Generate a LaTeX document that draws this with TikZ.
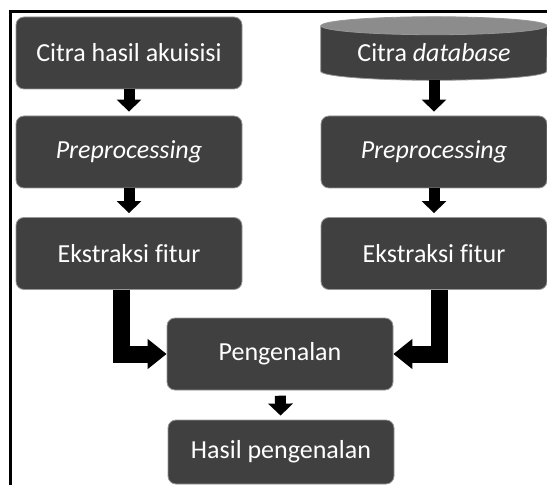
\documentclass[tikz,border=0pt]{standalone}
\usepackage{fontspec}
\setmainfont{Carlito}[Ligatures=NoCommon]
\usepackage{tikz}
\usetikzlibrary{arrows.meta,positioning,backgrounds,calc}
\usepackage{xcolor}
\definecolor{boxfill}{RGB}{64,64,64}
\definecolor{boxline}{RGB}{150,150,150}
\definecolor{dbtop}{RGB}{140,140,140}

\begin{document}
\begin{tikzpicture}[
  x=0.75pt, y=-0.75pt,
  every node/.style={font=\fontsize{19.5}{23}\selectfont, text=white},
  proc/.style={rounded corners=6pt, draw=boxline, line width=0.6pt, fill=boxfill, minimum width=169.5pt, minimum height=54pt, align=center, inner sep=0pt},
  dbnode/.style={minimum width=169.5pt, minimum height=40.5pt, align=center, inner sep=0pt},
  arr/.style={-{Triangle[length=9pt,width=18pt]}, line width=8.25pt, shorten >=3pt},
  bigarr/.style={-{Triangle[length=14.25pt,width=21.75pt]}, line width=12.75pt},
]
\useasboundingbox (0,0) rectangle (547,485);
% frame
\draw[line width=2.25pt] (10,485) -- (10,12) -- (547,12);

% left column
\node[proc] (akuisisi) at (129,53) {Citra hasil akuisisi};
\node[proc] (pre1) at (129,152) {\textit{Preprocessing}};
\node[proc] (eks1) at (129,253.5) {Ekstraksi fitur};

% right column
\node[dbnode] (db) at (434,53) {Citra \textit{database}};
\begin{scope}[on background layer]
  \filldraw[fill=boxfill, draw=boxline, line width=0.6pt] (db.north west) -- ([yshift=6.75pt]db.south west)
    arc[start angle=180, end angle=360, x radius=84.75pt, y radius=6.75pt] -- (db.north east) -- cycle;
  \filldraw[fill=dbtop, draw=boxline, line width=0.6pt] (db.north) ellipse[x radius=84.75pt, y radius=6.75pt];
\end{scope}
\node[proc] (pre2) at (434,152) {\textit{Preprocessing}};
\node[proc] (eks2) at (434,253.5) {Ekstraksi fitur};

% bottom
\node[proc] (peng) at (280,354) {Pengenalan};
\node[proc, minimum height=48pt] (hasil) at (281,452) {Hasil pengenalan};

\draw[arr] (akuisisi) -- (pre1);
\draw[arr] (pre1) -- (eks1);
\draw[arr] (db) -- (pre2);
\draw[arr] (pre2) -- (eks2);
\draw[bigarr] ([xshift=-6pt]eks1.south) |- (peng.west);
\draw[bigarr] ([xshift=3.75pt]eks2.south) |- (peng.east);
\draw[arr, shorten <=4pt] (peng) -- (hasil);
\end{tikzpicture}
\end{document}
